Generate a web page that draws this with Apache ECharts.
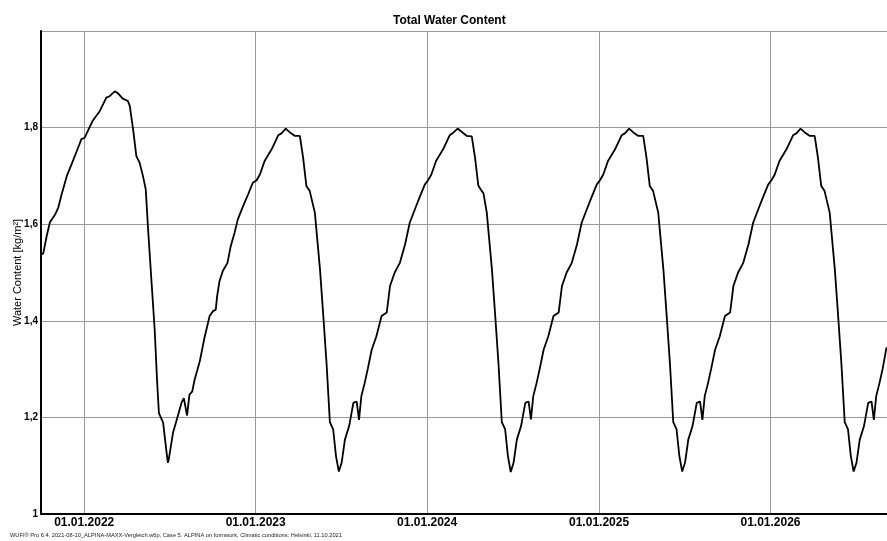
<!DOCTYPE html>
<html>
<head>
<meta charset="utf-8">
<script src="https://cdn.jsdelivr.net/npm/echarts@6/dist/echarts.min.js"></script>
<style>
  html, body { margin: 0; padding: 0; background: #fff; }
  #chart { width: 887px; height: 541px; }
</style>
</head>
<body>
<div id="chart"></div>
<script>
// first season, Oct 2021 - Dec 2022
const season1Dates = ['2021-10-01','2021-10-06','2021-10-13','2021-10-20','2021-10-31','2021-11-07','2021-11-14','2021-11-25',
  '2021-12-05','2021-12-16','2021-12-26','2022-01-02','2022-01-12','2022-01-19','2022-02-03','2022-02-17','2022-02-24',
  '2022-03-07','2022-03-14','2022-03-24','2022-04-04','2022-04-08','2022-04-15','2022-04-22','2022-04-29','2022-05-06',
  '2022-05-12','2022-05-17','2022-05-24','2022-05-31','2022-06-05','2022-06-09','2022-06-12','2022-06-18','2022-06-25',
  '2022-06-28','2022-06-30','2022-07-09','2022-07-17','2022-07-27','2022-08-01','2022-08-08','2022-08-13','2022-08-19',
  '2022-08-24','2022-09-04','2022-09-14','2022-09-25','2022-10-02','2022-10-08','2022-10-11','2022-10-16','2022-10-23',
  '2022-11-02','2022-11-09','2022-11-17','2022-11-24','2022-12-05','2022-12-16','2022-12-26'];
const season1Values = [1.537,1.540,1.575,1.604,1.620,1.635,1.662,1.700,
  1.724,1.751,1.776,1.779,1.800,1.814,1.834,1.862,1.865,
  1.875,1.871,1.860,1.855,1.845,1.797,1.741,1.727,1.700,
  1.672,1.589,1.485,1.382,1.278,1.209,1.213,1.189,1.130,
  1.106,1.113,1.168,1.195,1.230,1.240,1.204,1.247,1.254,
  1.278,1.316,1.365,1.410,1.420,1.423,1.451,1.482,1.503,
  1.520,1.555,1.582,1.610,1.637,1.662,1.686];

// later seasons, same calendar days each year
const yearDays = ['01-03','01-10','01-20','02-04','02-18','02-25','03-06','03-15','03-25','04-05','04-12','04-19',
  '04-26','04-30','05-07','05-18','05-25','06-01','06-08','06-15','06-21','06-27','07-03','07-10','07-19','07-28',
  '08-04','08-09','08-14','08-21','08-28','09-05','09-15','09-26','10-07','10-14','10-24','11-04','11-15','11-25',
  '12-06','12-17','12-27'];
const values2023 = [1.691,1.703,1.731,1.755,1.784,1.788,1.798,1.790,1.783,1.783,1.738,1.679,
  1.669,1.665,1.624,1.506,1.410,1.310,1.190,1.175,1.120,1.088,1.106,1.154,1.182,1.230,
  1.233,1.195,1.244,1.271,1.302,1.340,1.368,1.410,1.417,1.472,1.500,1.520,1.558,1.603,
  1.631,1.658,1.682];
const values2024 = [1.691,1.703,1.731,1.755,1.784,1.789,1.798,1.791,1.783,1.782,1.738,1.680,
  1.669,1.664,1.624,1.506,1.410,1.310,1.190,1.176,1.120,1.087,1.106,1.154,1.182,1.230,
  1.233,1.196,1.244,1.271,1.302,1.340,1.368,1.410,1.417,1.472,1.500,1.520,1.558,1.603,
  1.631,1.658,1.682];
const values2025 = [1.691,1.703,1.731,1.755,1.784,1.788,1.798,1.790,1.783,1.783,1.738,1.679,
  1.669,1.665,1.624,1.506,1.410,1.310,1.190,1.175,1.120,1.088,1.106,1.154,1.182,1.230,
  1.233,1.195,1.244,1.271,1.302,1.340,1.368,1.410,1.417,1.472,1.500,1.520,1.558,1.603,
  1.631,1.658,1.682];
const values2026 = [1.691,1.703,1.731,1.755,1.784,1.788,1.798,1.790,1.783,1.783,1.738,1.679,
  1.669,1.665,1.624,1.506,1.410,1.310,1.190,1.175,1.120,1.088,1.106,1.154,1.182,1.230,
  1.233,1.195,1.244,1.271,1.302,1.345];

const titleText = 'Total Water Content';
const yAxisName = 'Water Content [kg/m²]';
const footerText = 'WUFI® Pro 6.4, 2021-08-10_ALPINA-MAXX-Vergleich.w6p, Case 5. ALPINA on formwork, Climatic conditions: Helsinki, 11.10.2021';

function seasonPoints(year, values) {
  return values.map((v, i) => [year + '-' + yearDays[i], v]);
}

const points = season1Dates.map((d, i) => [d, season1Values[i]])
  .concat(seasonPoints(2023, values2023))
  .concat(seasonPoints(2024, values2024))
  .concat(seasonPoints(2025, values2025))
  .concat(seasonPoints(2026, values2026));

const chart = echarts.init(document.getElementById('chart'));
const DAY = 24 * 3600 * 1000;

const option = {
  animation: false,
  textStyle: { fontFamily: 'Liberation Sans, Arial, sans-serif' },
  title: [
    {
      text: titleText,
      left: 393,
      top: 15,
      padding: 0,
      textStyle: { fontSize: 12, fontWeight: 'bold', color: '#000' }
    },
    {
      text: footerText,
      left: 10,
      top: 532,
      padding: 0,
      textStyle: { fontSize: 5.7, fontWeight: 'normal', color: '#222' }
    }
  ],
  grid: { left: 41, right: 0, top: 31, bottom: 27, containLabel: false, outerBoundsMode: 'none' },
  xAxis: {
    type: 'time',
    min: '2021-10-01',
    max: '2026-09-06',
    minInterval: 365 * DAY,
    maxInterval: 366 * DAY,
    axisLine: { lineStyle: { color: '#000', width: 2 } },
    axisTick: { show: false },
    axisLabel: {
      margin: 3,
      color: '#000',
      fontWeight: 'bold',
      fontSize: 12,
      hideOverlap: false,
      showMinLabel: false,
      showMaxLabel: false,
      formatter: function (v) {
        const d = new Date(v);
        return '01.01.' + d.getFullYear();
      }
    },
    splitLine: { show: true, lineStyle: { color: '#999', width: 1 } }
  },
  yAxis: {
    type: 'value',
    min: 1,
    max: 2,
    interval: 0.2,
    name: yAxisName,
    nameLocation: 'middle',
    nameGap: 18,
    nameMoveOverlap: false,
    nameTextStyle: { fontSize: 11, color: '#000' },
    axisLine: { show: true, lineStyle: { color: '#000', width: 2 } },
    axisTick: { show: false },
    axisLabel: {
      margin: 3,
      color: '#000',
      fontWeight: 'bold',
      fontSize: 10,
      formatter: function (v) {
        if (v >= 2) return '';
        return String(+v.toFixed(1)).replace('.', ',');
      }
    },
    splitLine: { show: true, lineStyle: { color: '#999', width: 1 } }
  },
  series: [
    {
      type: 'line',
      data: points,
      showSymbol: false,
      smooth: false,
      lineStyle: { color: '#000', width: 1.8 }
    }
  ]
};

chart.setOption(option);
</script>
</body>
</html>
